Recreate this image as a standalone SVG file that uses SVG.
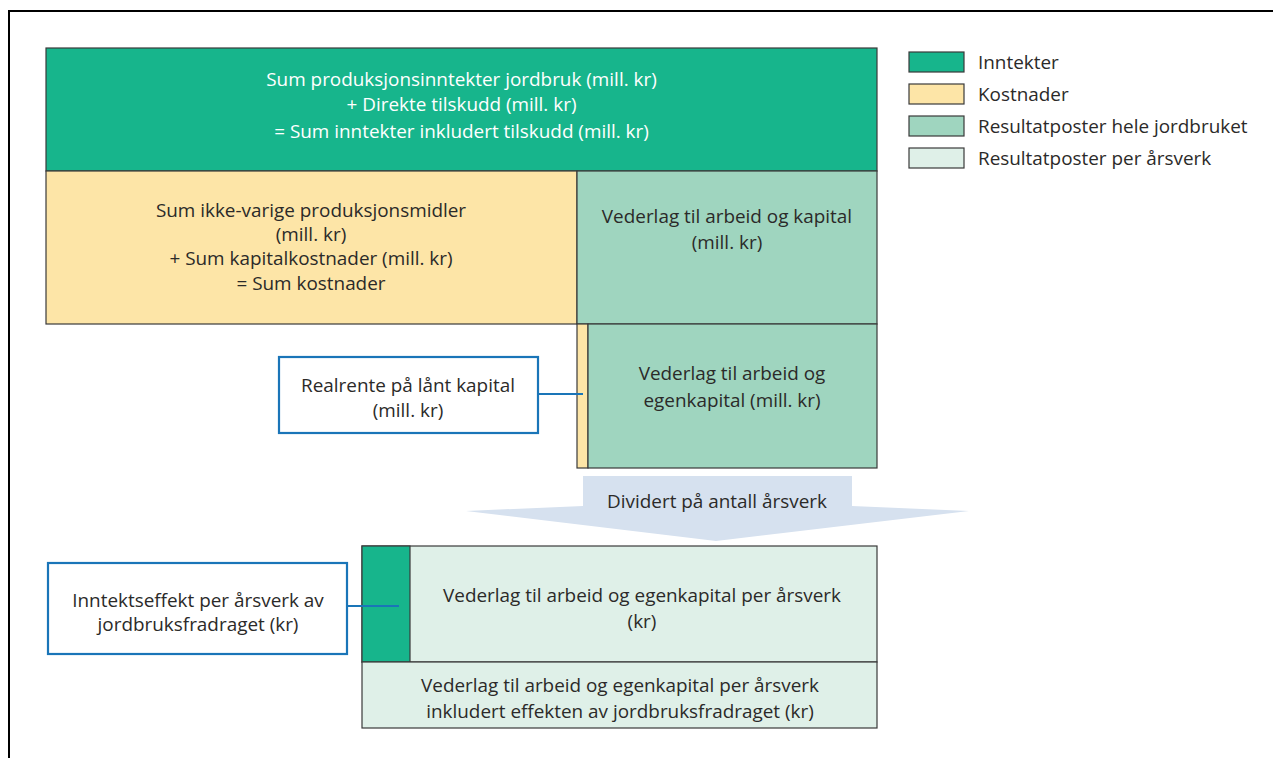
<svg xmlns="http://www.w3.org/2000/svg" width="1273" height="758" viewBox="0 0 1273 758">
<style>
.t{font-family:"Open Sans","Liberation Sans",sans-serif;font-size:18.9px;fill:#2b2a29;text-anchor:middle}
.w{fill:#ffffff}
.l{text-anchor:start}
.box{stroke:#3a3a3a;stroke-width:1.2}
.callout{fill:#ffffff;stroke:#1a75b8;stroke-width:2.2}
.g1{fill:#17b58c}.y{fill:#fde5a7}.g2{fill:#9fd5bf}.g3{fill:#dff0e8}
</style>
<rect width="1273" height="758" fill="#ffffff"/>
<path d="M9,760 V11 H1275" fill="none" stroke="#000" stroke-width="2"/>
<g id="legend">
<rect x="909" y="52" width="55" height="20" class="g1 box"/>
<rect x="909" y="84" width="55" height="20" class="y box"/>
<rect x="909" y="116" width="55" height="20" class="g2 box"/>
<rect x="909" y="148" width="55" height="20" class="g3 box"/>
<text x="978" y="69" class="t l">Inntekter</text>
<text x="978" y="101" class="t l">Kostnader</text>
<text x="978" y="133" class="t l">Resultatposter hele jordbruket</text>
<text x="978" y="165" class="t l">Resultatposter per årsverk</text>
</g>
<g id="inntekter">
<rect x="46" y="48" width="831" height="123" class="g1 box"/>
<text class="t w" x="461.5" y="86">Sum produksjonsinntekter jordbruk (mill. kr)</text>
<text class="t w" x="461.5" y="111">+ Direkte tilskudd (mill. kr)</text>
<text class="t w" x="461.5" y="138">= Sum inntekter inkludert tilskudd (mill. kr)</text>
</g>
<g id="kostnader">
<rect x="46" y="171" width="531" height="153" class="y box"/>
<text class="t" x="311" y="217">Sum ikke-varige produksjonsmidler</text>
<text class="t" x="311" y="241">(mill. kr)</text>
<text class="t" x="311" y="265">+ Sum kapitalkostnader (mill. kr)</text>
<text class="t" x="311" y="290">= Sum kostnader</text>
</g>
<g id="vederlag-kapital">
<rect x="577" y="171" width="300" height="153" class="g2 box"/>
<text class="t" x="727" y="223">Vederlag til arbeid og kapital</text>
<text class="t" x="727" y="249">(mill. kr)</text>
</g>
<g id="realrente-strip">
<rect x="577" y="324" width="11" height="144" class="y box"/>
</g>
<g id="vederlag-egenkapital">
<rect x="588" y="324" width="289" height="144" class="g2 box"/>
<text class="t" x="732" y="380">Vederlag til arbeid og</text>
<text class="t" x="732" y="407">egenkapital (mill. kr)</text>
</g>
<g id="realrente">
<rect x="279" y="357" width="259" height="76" class="callout"/>
<text class="t" x="408" y="392">Realrente på lånt kapital</text>
<text class="t" x="408" y="417">(mill. kr)</text>
</g>
<g id="dividert">
<polygon points="583,476 852,476 852,506 969,511 716,541 466,511 583,506" fill="#d6e1ef"/>
<text class="t" x="717" y="508">Dividert på antall årsverk</text>
</g>
<g id="per-aarsverk">
<rect x="362" y="546" width="515" height="116" class="g3 box"/>
<text class="t" x="642" y="602">Vederlag til arbeid og egenkapital per årsverk</text>
<text class="t" x="642" y="628">(kr)</text>
</g>
<g id="inntektseffekt-strip">
<rect x="362" y="546" width="48" height="116" class="g1 box"/>
</g>
<g id="inkludert">
<rect x="362" y="662" width="515" height="66" class="g3 box"/>
<text class="t" x="620" y="692">Vederlag til arbeid og egenkapital per årsverk</text>
<text class="t" x="620" y="718">inkludert effekten av jordbruksfradraget (kr)</text>
</g>
<g id="inntektseffekt">
<rect x="48" y="563" width="299" height="91" class="callout"/>
<text class="t" x="198" y="607">Inntektseffekt per årsverk av</text>
<text class="t" x="198" y="631">jordbruksfradraget (kr)</text>
</g>
<g id="connectors" stroke="#1a75b8" stroke-width="2.2" fill="none">
<line x1="538" y1="394" x2="583" y2="394"/>
<line x1="347" y1="606" x2="399" y2="606"/>
</g>
</svg>
